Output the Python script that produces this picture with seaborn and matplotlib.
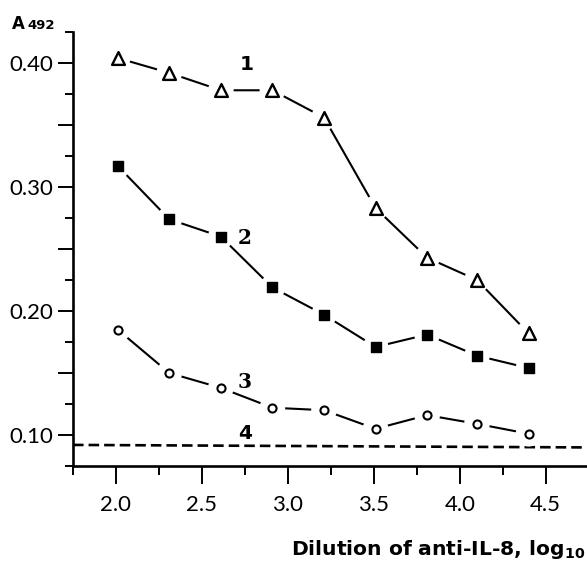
import numpy as np
import pandas as pd
import matplotlib
matplotlib.use("Agg")
import matplotlib.pyplot as plt
import seaborn as sns
from matplotlib.ticker import MultipleLocator, FuncFormatter

# ---- data ----
dilution = [2.01, 2.31, 2.61, 2.91, 3.21, 3.51, 3.81, 4.10, 4.40]
series1 = [0.404, 0.392, 0.378, 0.378, 0.356, 0.283, 0.243, 0.225, 0.182]
series2 = [0.317, 0.274, 0.260, 0.219, 0.197, 0.171, 0.181, 0.164, 0.154]
series3 = [0.185, 0.150, 0.138, 0.122, 0.120, 0.105, 0.116, 0.109, 0.101]
baseline_x = [1.75, 4.71]
baseline_y = [0.092, 0.090]
curve_labels = ["1", "2", "3", "4"]
label_x = [2.76, 2.75, 2.75, 2.75]
label_y = [0.399, 0.259, 0.143, 0.101]
x_ticks = [2.0, 2.5, 3.0, 3.5, 4.0, 4.5]

sns.set_style("ticks")
plt.rcParams["font.family"] = ["Lato", "DejaVu Sans"]
plt.rcParams["mathtext.fontset"] = "dejavusans"
plt.rcParams["text.color"] = "black"
plt.rcParams["axes.labelcolor"] = "black"
plt.rcParams["xtick.color"] = "black"
plt.rcParams["ytick.color"] = "black"

fig = plt.figure(figsize=(5.87, 5.63), dpi=100)
ax = fig.add_axes([73 / 587, 97 / 563, 514 / 587, 434 / 563])

df = pd.DataFrame({"x": dilution, "s1": series1, "s2": series2, "s3": series3})

specs = [
    ("s1", "^", 85, "white", 1.7),
    ("s2", "s", 45, "black", 1.0),
    ("s3", "o", 34, "white", 1.5),
]
for col, mk, size, face, mlw in specs:
    sns.lineplot(data=df, x="x", y=col, color="black", lw=1.5, ax=ax, zorder=1)
    # white halo to create the gap between line and marker
    ax.scatter(df["x"], df[col], s=340, marker="o", color="white",
               edgecolors="none", zorder=2)
    sns.scatterplot(data=df, x="x", y=col, marker=mk, s=size,
                    facecolor=face, edgecolor="black", linewidth=mlw,
                    ax=ax, zorder=3)

bl = pd.DataFrame({"x": baseline_x, "y": baseline_y})
sns.lineplot(data=bl, x="x", y="y", color="black", lw=1.9, ax=ax,
             dashes=False, zorder=1)
ax.lines[-1].set_dashes((4.0, 1.9))

for t, lx, ly in zip(curve_labels, label_x, label_y):
    fam = ["DejaVu Serif"] if t in ("2", "3") else ["DejaVu Sans"]
    ax.text(lx, ly, t, fontsize=14.5, fontweight="bold", family=fam,
            color="black", ha="center", va="center", zorder=5)

ax.set_xlim(1.75, 4.74)
ax.set_ylim(0.075, 0.425)
ax.set_xticks(x_ticks)
ax.xaxis.set_minor_locator(MultipleLocator(0.25))
ax.yaxis.set_major_locator(MultipleLocator(0.05))
ax.yaxis.set_minor_locator(MultipleLocator(0.025))
ax.yaxis.set_major_formatter(FuncFormatter(
    lambda v, p: f"{v:.2f}" if abs(round(v * 10) - v * 10) < 1e-6 else ""))
ax.xaxis.set_major_formatter(FuncFormatter(lambda v, p: f"{v:.1f}"))

for side in ("top", "right"):
    ax.spines[side].set_visible(False)
for side in ("left", "bottom"):
    ax.spines[side].set_linewidth(1.9)
    ax.spines[side].set_color("black")

ax.tick_params(axis="x", which="major", length=13, width=1.4, pad=8,
               labelsize=16, colors="black", direction="out")
ax.tick_params(axis="x", which="minor", length=6.5, width=1.4, direction="out")
ax.tick_params(axis="y", which="major", length=10.5, width=1.4, pad=3.5,
               labelsize=16, colors="black", direction="out")
ax.tick_params(axis="y", which="minor", length=5.5, width=1.4, direction="out")

ax.set_xlabel("")
ax.set_ylabel("")

fig.text(585 / 587, 1 - 555 / 563, r"Dilution of anti-IL-8, log$_{\mathbf{10}}$",
         ha="right", va="baseline", fontsize=14.6, fontweight="bold",
         family=["DejaVu Sans"], color="black")
fig.text(12 / 587, 1 - 29 / 563, "A", ha="left", va="baseline",
         fontsize=12, fontweight="bold", family=["DejaVu Sans"], color="black")
fig.text(27 / 587, 1 - 29 / 563, "492", ha="left", va="baseline",
         fontsize=9.5, fontweight="bold", family=["DejaVu Sans"], color="black")

fig.savefig("out.png", dpi=100)
